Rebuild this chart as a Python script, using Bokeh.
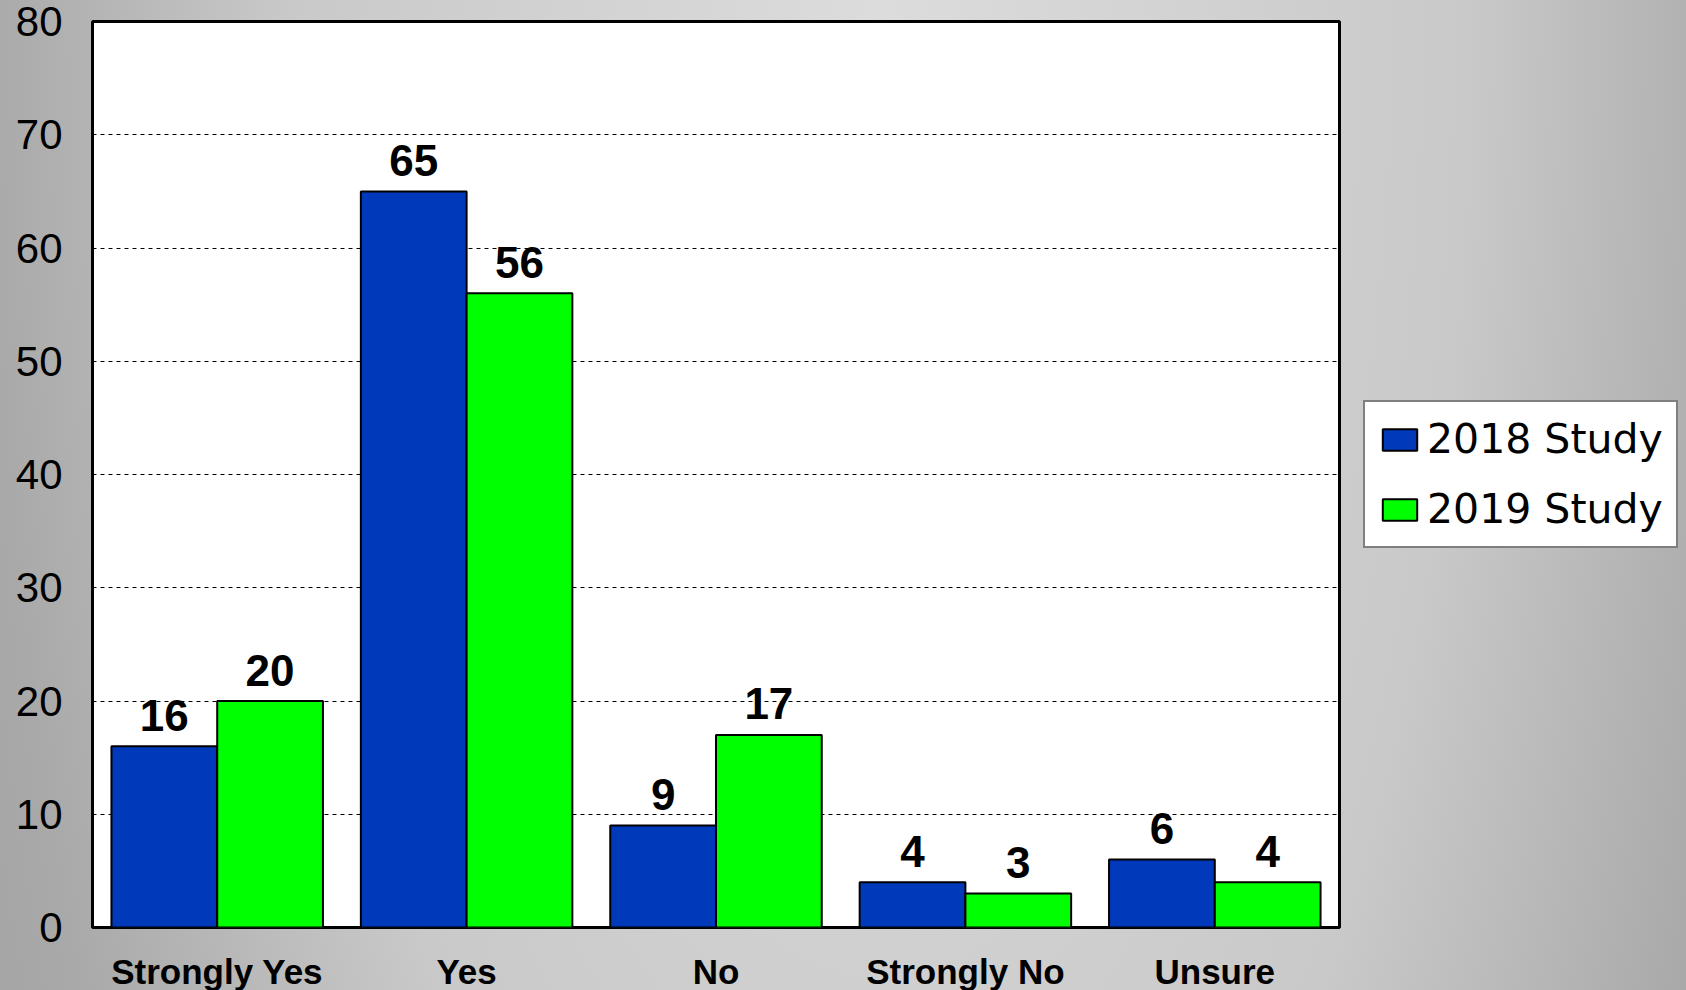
from bokeh.plotting import figure
from bokeh.models import (ColumnDataSource, FactorRange, Legend, LegendItem,
                          FixedTicker, Range1d)
from bokeh.transform import dodge
from bokeh.core.properties import value
from bokeh.embed import file_html
from bokeh.resources import INLINE

categories = ["Strongly Yes", "Yes", "No", "Strongly No", "Unsure"]
study_2018 = [16, 65, 9, 4, 6]
study_2019 = [20, 56, 17, 3, 4]
series_names = ["2018 Study", "2019 Study"]
y_ticks = [0, 10, 20, 30, 40, 50, 60, 70, 80]

src = ColumnDataSource(dict(
    cat=categories,
    y18=study_2018,
    y19=study_2019,
    t18=[str(v) for v in study_2018],
    t19=[str(v) for v in study_2019],
))

p = figure(
    frame_width=1247, frame_height=906,
    x_range=FactorRange(*categories, range_padding=0),
    y_range=Range1d(0, 80),
    output_backend="svg", toolbar_location=None, title=None,
    min_border_left=92, min_border_top=21, min_border_right=0, min_border_bottom=73,
)
p.styles = {
    "margin": "0px 0px -10px 0px",
    "background": "radial-gradient(950px 2400px at 880px 0px, #dcdcdc 0%, #c9c9c9 62%, #a9a9a9 94%, #a6a6a6 100%)",
}
p.border_fill_alpha = 0
p.background_fill_color = "white"
p.outline_line_color = "black"
p.outline_line_width = 3

off = 0.212
bw = 0.424
r18 = p.vbar(x=dodge("cat", -off, range=p.x_range), top="y18", width=bw, source=src,
             fill_color="#0039b9", line_color="black", line_width=2)
r19 = p.vbar(x=dodge("cat", off, range=p.x_range), top="y19", width=bw, source=src,
             fill_color="#00ff00", line_color="black", line_width=2)

lbl_font = value("Liberation Sans")
p.text(x=dodge("cat", -off, range=p.x_range), y="y18", text="t18", source=src,
       text_font=lbl_font, text_font_style="bold", text_font_size="44px",
       text_align="center", text_baseline="alphabetic", y_offset=-31, text_color="black")
p.text(x=dodge("cat", off, range=p.x_range), y="y19", text="t19", source=src,
       text_font=lbl_font, text_font_style="bold", text_font_size="44px",
       text_align="center", text_baseline="alphabetic", y_offset=-31, text_color="black")

# grid
p.xgrid.grid_line_color = None
p.ygrid.grid_line_color = "black"
p.ygrid.grid_line_dash = "4 4"
p.ygrid.grid_line_width = 1
p.ygrid.ticker = FixedTicker(ticks=y_ticks)

# y axis
p.yaxis.ticker = FixedTicker(ticks=y_ticks)
p.yaxis.axis_line_color = None
p.yaxis.major_tick_line_color = None
p.yaxis.minor_tick_line_color = None
p.yaxis.major_tick_out = 0
p.yaxis.major_tick_in = 0
p.yaxis.major_label_standoff = 30
p.yaxis.major_label_text_font = "Liberation Sans"
p.yaxis.major_label_text_font_size = "42px"
p.yaxis.major_label_text_color = "black"

# x axis
p.xaxis.axis_line_color = None
p.xaxis.major_tick_line_color = None
p.xaxis.major_tick_out = 0
p.xaxis.major_tick_in = 0
p.xaxis.major_label_standoff = 24
p.xaxis.major_label_text_font = "Liberation Sans"
p.xaxis.major_label_text_font_style = "bold"
p.xaxis.major_label_text_font_size = "35px"
p.xaxis.major_label_text_color = "black"

legend = Legend(
    items=[LegendItem(label=series_names[0], renderers=[r18]),
           LegendItem(label=series_names[1], renderers=[r19])],
    location="center_left",
    margin=24,
    padding=13,
    spacing=22,
    glyph_width=43,
    glyph_height=27,
    label_standoff=6,
    label_text_font="DejaVu Sans",
    label_text_font_size="41px",
    label_text_color="black",
    border_line_color="black",
    border_line_width=2,
    background_fill_color="white",
    background_fill_alpha=1,
)
p.add_layout(legend, "right")

open("out.html", "w").write(file_html(p, INLINE))
